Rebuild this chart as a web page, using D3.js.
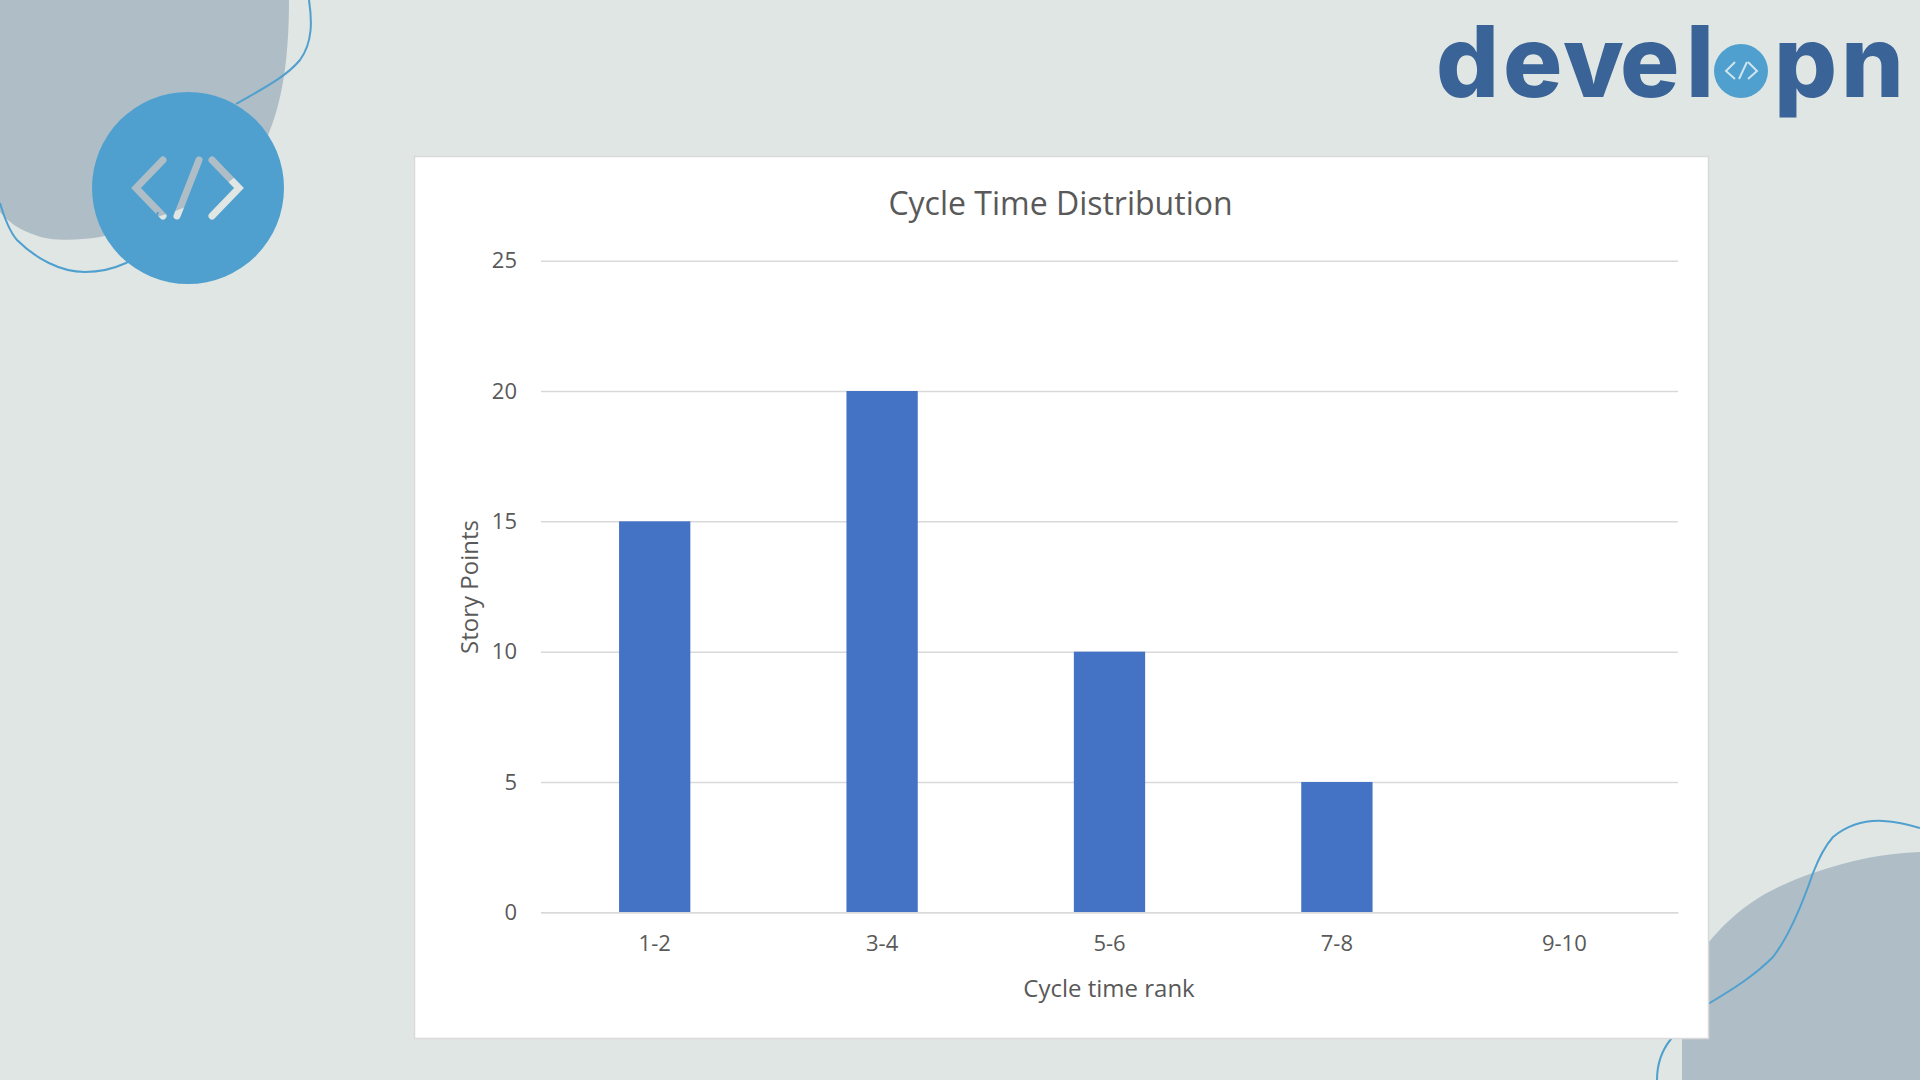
<!DOCTYPE html>
<html>
<head>
<meta charset="utf-8">
<script src="https://cdnjs.cloudflare.com/ajax/libs/d3/7.8.5/d3.min.js"></script>
<style>
  html, body { margin: 0; padding: 0; background: #e0e6e3; }
  svg { display: block; }
  text { font-family: "Open Sans", sans-serif; fill: #595959; }
</style>
</head>
<body>
<svg id="chart" width="1920" height="1080"></svg>
<script>
const categories = ['1-2', '3-4', '5-6', '7-8', '9-10']
const storyPoints = [15, 20, 10, 5, 0]
const yTicks = [0, 5, 10, 15, 20, 25]

const titleText = 'Cycle Time Distribution'
const xTitleText = 'Cycle time rank'
const yTitleText = 'Story Points'

const width = 1920
const height = 1080
const lineBlue = '#4fa0cf'
const blobGrey = '#afbec6'
const logoBlue = '#3a6398'

let svg = d3.select('#chart')

// the background decoration goes first so the card covers part of it
let deco = svg.append('g').attr('class', 'deco')

deco.append('path')
  .attr('d', 'M0,0 H289 C289,60 282,110 262,148 C240,180 200,205 160,216 C140,224 120,233 100,237 C75,241 50,241 35,235 C20,230 8,222 0,212 Z')
  .attr('fill', blobGrey)

deco.append('path')
  .attr('d', 'M1682,1080 V1000 C1685,975 1695,958 1708,943 C1740,905 1770,888 1813,873 C1850,860 1885,853 1920,852 V1080 Z')
  .attr('fill', blobGrey)

const lines = [
  'M309,0 C312,20 313,42 300,60 C285,78 260,90 236,104',
  'M0,203 C5,220 10,232 17,240 C35,258 60,272 85,272 C100,272 115,268 126,263 C140,256 152,235 158,212',
  'M1657,1080 C1657,1062 1662,1050 1671,1039 C1680,1030 1695,1012 1708,1004 C1735,988 1755,975 1773,957 C1790,935 1802,905 1813,873 C1820,855 1826,845 1833,837 C1848,825 1865,820 1883,821 C1898,822 1910,825 1920,828'
]
deco.selectAll('path.curve').data(lines).enter().append('path')
  .attr('class', 'curve')
  .attr('d', d => d)
  .attr('fill', 'none')
  .attr('stroke', lineBlue)
  .attr('stroke-width', 2)

// badge: the code icon is cut out of the circle, so the blob shows through
const iconPaths = ['M163,160 L136,188 L163,216', 'M199,160 L177,216', 'M212,160 L239,188 L212,216']
let mask = svg.append('defs').append('mask').attr('id', 'badgeMask')
mask.append('rect').attr('width', width).attr('height', height).attr('fill', 'white')
mask.selectAll('path').data(iconPaths).enter().append('path')
  .attr('d', d => d)
  .attr('fill', 'none')
  .attr('stroke', 'black')
  .attr('stroke-width', 7)
  .attr('stroke-linecap', 'round')
  .attr('stroke-linejoin', 'miter')

deco.append('circle')
  .attr('cx', 188).attr('cy', 188).attr('r', 96)
  .attr('fill', lineBlue)
  .attr('mask', 'url(#badgeMask)')

// logo, letters placed one by one to follow the wordmark spacing
let logo = svg.append('g').attr('class', 'logo')
logo.append('text')
  .attr('x', '1436 1503 1563 1620 1686')
  .attr('y', 97)
  .style('font-family', 'Inter, sans-serif')
  .style('font-weight', 800)
  .style('font-size', '99px')
  .style('fill', logoBlue)
  .text('devel')
logo.append('text')
  .attr('x', '1774 1841')
  .attr('y', 97)
  .style('font-family', 'Inter, sans-serif')
  .style('font-weight', 800)
  .style('font-size', '99px')
  .style('fill', logoBlue)
  .text('pn')
logo.append('circle').attr('cx', 1741).attr('cy', 71).attr('r', 27).attr('fill', lineBlue)
logo.selectAll('path').data(['M1735,62 L1726,71 L1735,79', 'M1747,62 L1739,79', 'M1748,62 L1757,71 L1748,79'])
  .enter().append('path')
  .attr('d', d => d)
  .attr('fill', 'none')
  .attr('stroke', '#cfe4ef')
  .attr('stroke-width', 2)

// card
svg.append('rect')
  .attr('x', 414.5).attr('y', 156.5)
  .attr('width', 1294).attr('height', 882)
  .attr('fill', '#ffffff')
  .attr('stroke', '#d9d9d9')
  .attr('stroke-width', 1.5)

// scales
const margin = { left: 541, right: 1678, top: 260.7, bottom: 912.3 }

let x = d3.scaleBand()
  .domain(categories)
  .range([margin.left, margin.right])
  .paddingInner(0.6865)
  .paddingOuter(0.34325)

let y = d3.scaleLinear()
  .domain([0, 25])
  .range([margin.bottom, margin.top])

// gridlines and y labels
let yAxis = svg.append('g')
  .attr('transform', `translate(${margin.left},0)`)
  .call(d3.axisLeft(y).tickValues(yTicks).tickSize(-(margin.right - margin.left)).tickPadding(24))
yAxis.select('.domain').remove()
yAxis.selectAll('line').attr('stroke', '#d9d9d9').attr('stroke-width', 1.5)
yAxis.selectAll('text').style('font-size', '22px').style('fill', '#595959')

// bars
svg.append('g').attr('class', 'bars')
  .selectAll('rect')
  .data(categories)
  .enter()
  .append('rect')
  .attr('x', d => x(d))
  .attr('width', x.bandwidth())
  .attr('y', (d, i) => y(storyPoints[i]))
  .attr('height', (d, i) => y(0) - y(storyPoints[i]))
  .attr('fill', '#4472c4')

// x axis
let xAxis = svg.append('g')
  .attr('transform', `translate(0,${margin.bottom})`)
  .call(d3.axisBottom(x).tickSize(0).tickPadding(23))
xAxis.select('.domain').attr('stroke', '#d9d9d9').attr('stroke-width', 1.5)
xAxis.selectAll('text').style('font-size', '22px').style('fill', '#595959')

// titles
svg.append('text')
  .attr('x', 1060.5).attr('y', 202)
  .attr('text-anchor', 'middle').attr('dominant-baseline', 'central')
  .style('font-size', '32px')
  .text(titleText)

svg.append('text')
  .attr('x', 1109).attr('y', 987)
  .attr('text-anchor', 'middle').attr('dominant-baseline', 'central')
  .style('font-size', '24px')
  .text(xTitleText)

svg.append('text')
  .attr('transform', 'translate(468,587) rotate(-90)')
  .attr('text-anchor', 'middle').attr('dominant-baseline', 'central')
  .style('font-size', '24px')
  .text(yTitleText)
</script>
</body>
</html>
